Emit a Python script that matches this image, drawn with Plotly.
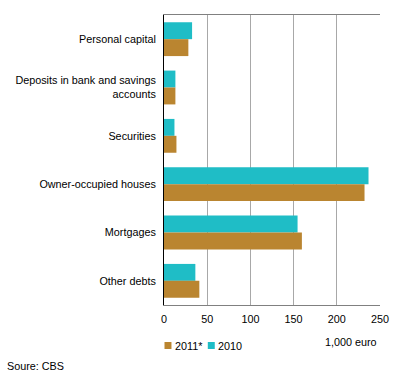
import plotly.graph_objects as go

categories = ["Personal capital", "Deposits in bank and savings<br>accounts", "Securities",
              "Owner-occupied houses", "Mortgages", "Other debts"]
values_2010 = [32.5, 13.2, 12.1, 236.7, 154.6, 36.3]
values_2011 = [28.2, 13.2, 14.4, 232.1, 159.6, 40.9]
x_ticks = [0, 50, 100, 150, 200, 250]

CYAN = "#1FBDC6"
BROWN = "#BA8530"
FONT = "Liberation Sans, Arial, sans-serif"
FS = 10.8

W, H = 396, 378
L, R, T, B = 163.5, 15.5, 15, 73
PW, PH = W - L - R, H - T - B


def px(x):
    return (x - L) / PW


def py(y):
    return (H - B - y) / PH


fig = go.Figure()
fig.add_trace(go.Bar(y=categories, x=values_2010, name="2010", orientation="h",
                     marker=dict(color=CYAN, line=dict(width=0))))
fig.add_trace(go.Bar(y=categories, x=values_2011, name="2011*", orientation="h",
                     marker=dict(color=BROWN, line=dict(width=0))))

legend_items = [("2011*", BROWN, 164, 174), ("2010", CYAN, 207.5, 216.5)]
shapes = []
annotations = []
for label, color, sx, tx in legend_items:
    shapes.append(dict(type="rect", xref="paper", yref="paper", x0=px(sx), x1=px(sx + 7),
                       y0=py(349), y1=py(342), fillcolor=color, line=dict(width=0)))
    annotations.append(dict(text=label, x=px(tx - 1), xref="paper", xanchor="left",
                            y=py(345.5), yref="paper", yanchor="middle", showarrow=False,
                            font=dict(size=FS)))
annotations.append(dict(text="1,000 euro", x=px(379), xref="paper", xanchor="right",
                        y=py(342), yref="paper", yanchor="middle", showarrow=False,
                        font=dict(size=FS)))
annotations.append(dict(text="Soure: CBS", x=px(4), xref="paper", xanchor="left",
                        y=py(366), yref="paper", yanchor="middle", showarrow=False,
                        font=dict(size=FS)))

fig.update_layout(
    width=W, height=H,
    margin=dict(l=L, r=R, t=T, b=B, autoexpand=False),
    barmode="group", bargap=0.3, bargroupgap=0,
    plot_bgcolor="white", paper_bgcolor="white",
    font=dict(family=FONT, size=FS, color="black"),
    showlegend=False,
    xaxis=dict(range=[0, 250], tickvals=x_ticks, showgrid=True, gridcolor="#A8A8A8",
               gridwidth=1, showline=True, linecolor="#808080", linewidth=1, mirror=True,
               zeroline=False, ticks="", tickfont=dict(size=FS), fixedrange=True,
               automargin=False, ticklabelstandoff=4),
    yaxis=dict(autorange="reversed", showline=True, linecolor="black", linewidth=1,
               ticks="", ticklabelstandoff=5, showgrid=False, tickfont=dict(size=FS),
               fixedrange=True, automargin=False),
    shapes=shapes,
    annotations=annotations,
)
fig.write_html("out.html", config={"displayModeBar": False, "staticPlot": True},
               post_script="document.body.style.margin='0';document.body.style.overflow='hidden';")
